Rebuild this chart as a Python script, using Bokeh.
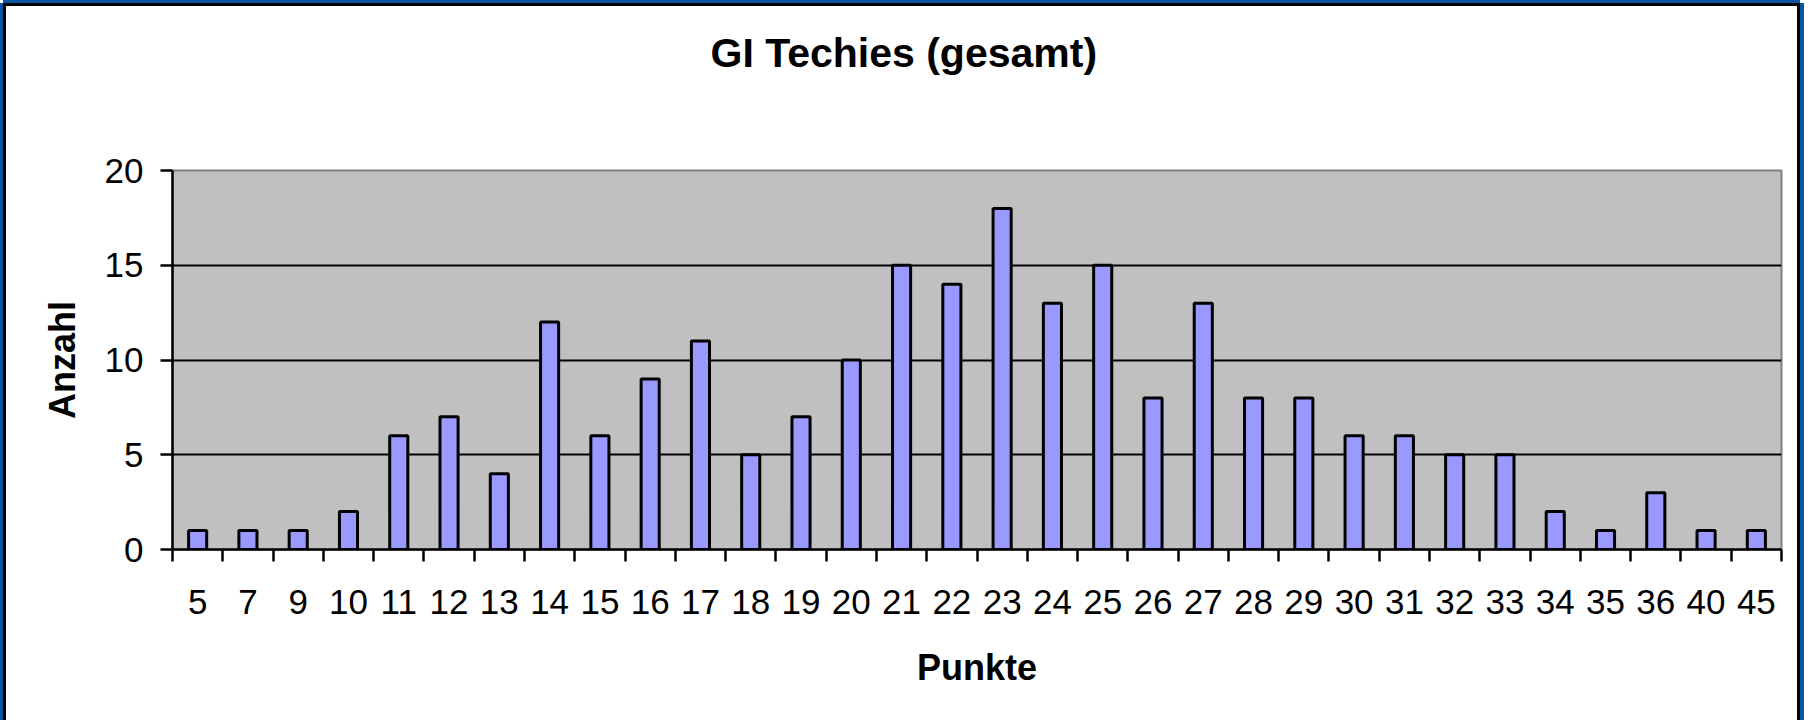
from bokeh.plotting import figure
from bokeh.models import FixedTicker, ColumnDataSource, Range1d, Title
from bokeh.embed import file_html
from bokeh.resources import INLINE

# ---- data ----
punkte = ["5", "7", "9", "10", "11", "12", "13", "14", "15", "16", "17", "18", "19", "20",
          "21", "22", "23", "24", "25", "26", "27", "28", "29", "30", "31", "32", "33",
          "34", "35", "36", "40", "45"]
anzahl = [1, 1, 1, 2, 6, 7, 4, 12, 6, 9, 11, 5, 7, 10,
          15, 14, 18, 13, 15, 8, 13, 8, 8, 6, 6, 5, 5,
          2, 1, 3, 1, 1]
y_ticks = [0, 5, 10, 15, 20]
grid_ticks = [5, 10, 15]
title_text = "GI Techies (gesamt)"
x_label = "Punkte"
y_label = "Anzahl"

FONT = "Liberation Sans"
n = len(punkte)
pos = list(range(n))

src = ColumnDataSource(dict(x=pos, top=anzahl, name=punkte))

p = figure(width=1797, height=717, output_backend="svg", toolbar_location=None,
           x_range=Range1d(-0.5, n - 0.5), y_range=Range1d(0, 20),
           min_border_left=166, min_border_right=22, min_border_top=164, min_border_bottom=174)

p.background_fill_color = "#C0C0C0"
p.border_fill_color = "white"
p.outline_line_color = "#808080"
p.outline_line_width = 2

p.vbar(x="x", top="top", width=0.36, source=src, fill_color="#9999FF",
       line_color="black", line_width=3)

# real title (outermost) + white spacer between title and frame
p.title.text = title_text
p.title.text_font = FONT
p.title.text_font_size = "41px"
p.title.text_font_style = "bold"
p.title.text_color = "black"
p.title.align = "left"
p.title.offset = 538
p.title.standoff = 6
spacer = Title(text=".", text_font=FONT, text_font_size="40px", text_color="white",
               standoff=62)
p.add_layout(spacer, "above")

# x axis
xa = p.xaxis[0]
xa.ticker = FixedTicker(ticks=pos, minor_ticks=[i - 0.5 for i in range(n + 1)])
xa.major_label_overrides = {i: s for i, s in zip(pos, punkte)}
xa.major_tick_out = 0
xa.major_tick_in = 0
xa.minor_tick_out = 12
xa.minor_tick_in = 0
xa.minor_tick_line_color = "black"
xa.minor_tick_line_width = 2.5
xa.axis_line_color = "black"
xa.axis_line_width = 2.5
xa.major_label_text_font = FONT
xa.major_label_text_font_size = "35px"
xa.major_label_text_color = "black"
xa.major_label_standoff = 28
xa.axis_label = x_label
xa.axis_label_text_font = FONT
xa.axis_label_text_font_size = "36px"
xa.axis_label_text_font_style = "bold"
xa.axis_label_text_color = "black"
xa.axis_label_standoff = 30

# y axis
ya = p.yaxis[0]
ya.ticker = FixedTicker(ticks=y_ticks)
ya.major_tick_out = 12
ya.major_tick_in = 0
ya.major_tick_line_width = 2.5
ya.minor_tick_out = 0
ya.minor_tick_in = 0
ya.axis_line_color = "black"
ya.axis_line_width = 2.5
ya.major_label_text_font = FONT
ya.major_label_text_font_size = "35px"
ya.major_label_text_color = "black"
ya.major_label_standoff = 17
ya.axis_label = y_label
ya.axis_label_text_font = FONT
ya.axis_label_text_font_size = "36px"
ya.axis_label_text_font_style = "bold"
ya.axis_label_text_color = "black"
ya.axis_label_standoff = 19

p.xgrid.visible = False
p.ygrid[0].ticker = FixedTicker(ticks=grid_ticks)
p.ygrid[0].grid_line_color = "black"
p.ygrid[0].grid_line_width = 2

p.styles = {
    "border-left": "3px solid black",
    "border-top": "3px solid black",
    "border-right": "3px solid black",
    "border-bottom": "none",
    "box-shadow": "-3px 0 0 0 #0A55A5, 4px 0 0 0 #0A55A5, 0 -3px 0 0 #0A55A5",
    "margin": "3px 0 0 3px",
}

open("out.html", "w").write(file_html(p, INLINE))
